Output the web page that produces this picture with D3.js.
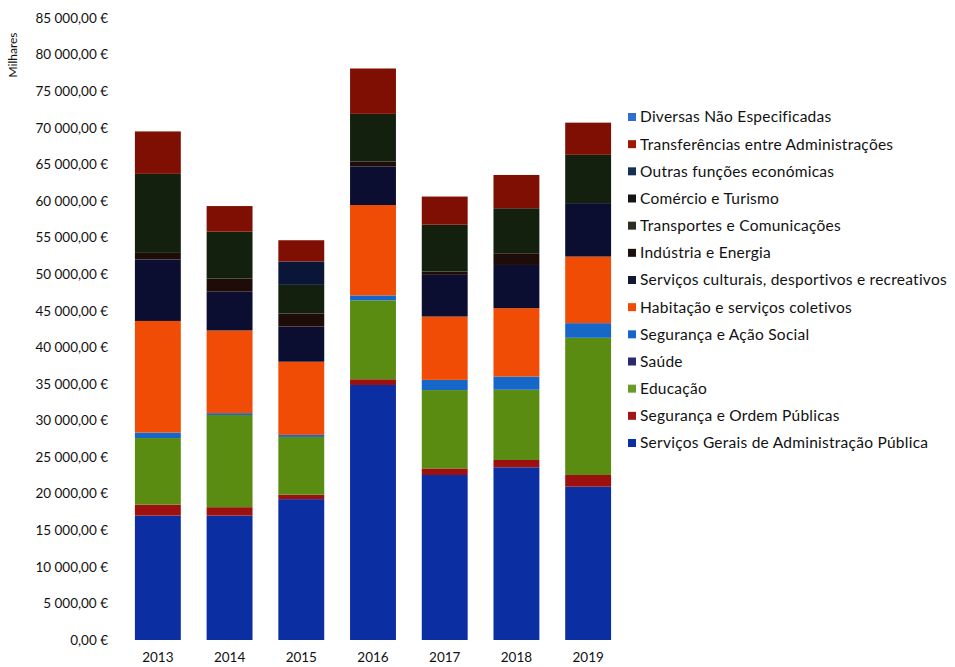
<!DOCTYPE html>
<html>
<head>
<meta charset="utf-8">
<script src="https://cdn.jsdelivr.net/npm/d3@7"></script>
<style>
  html, body { margin: 0; padding: 0; background: #fff; }
  svg text { font-family: Lato, "Open Sans", sans-serif; fill: #111; }
</style>
</head>
<body>
<svg id="chart" width="955" height="667"></svg>
<script>
// ---- data (thousands of euros) ----
const years = ["2013", "2014", "2015", "2016", "2017", "2018", "2019"];

// stacked from bottom to top
const seriesNames = [
  "Serviços Gerais de Administração Pública",
  "Segurança e Ordem Públicas",
  "Educação",
  "Saúde",
  "Segurança e Ação Social",
  "Habitação e serviços coletivos",
  "Serviços culturais, desportivos e recreativos",
  "Indústria e Energia",
  "Transportes e Comunicações",
  "Comércio e Turismo",
  "Outras funções económicas",
  "Transferências entre Administrações",
  "Diversas Não Especificadas"
];

const servicosGerais   = [17000, 17000, 19250, 34850, 22550, 23600, 20950];
const segurancaOrdem   = [1500, 1150, 600, 780, 900, 1000, 1600];
const educacao         = [9100, 12600, 7900, 10780, 10700, 9600, 18750];
const saude            = [0, 0, 0, 0, 0, 0, 0];
const segurancaAcao    = [750, 250, 280, 680, 1400, 1800, 2000];
const habitacao        = [15250, 11300, 10000, 12350, 8650, 9350, 9100];
const servicosCultura  = [8400, 5300, 4800, 5280, 5700, 5900, 7300];
const industria        = [900, 1800, 1800, 680, 450, 1600, 0];
const transportes      = [10800, 6400, 3900, 6500, 6400, 6150, 6600];
const comercio         = [0, 0, 0, 0, 0, 0, 0];
const outrasFuncoes    = [0, 0, 3200, 0, 0, 0, 0];
const transferencias   = [5800, 3500, 2900, 6200, 3850, 4550, 4400];
const diversas         = [0, 0, 0, 0, 0, 0, 0];

const seriesValues = [servicosGerais, segurancaOrdem, educacao, saude, segurancaAcao,
  habitacao, servicosCultura, industria, transportes, comercio, outrasFuncoes,
  transferencias, diversas];

const seriesColors = ["#0b2fa2", "#9c1010", "#5b8c12", "#2b2a6e", "#1767c9",
  "#f04c05", "#0b0e30", "#1e0c08", "#13200d", "#0d0d0d", "#0a1638", "#800f03", "#2f6fd0"];

const legendColors = ["#0b2fa2", "#a01818", "#6a9a2a", "#2b2a6e", "#1767c9",
  "#f04c05", "#111833", "#1a1010", "#2a3020", "#151515", "#153050", "#9a1a05", "#2f6fd0"];

const yTicks = d3.range(0, 85001, 5000);
const yLabel = "Milhares";

// ---- build table ----
const table = years.map((y, i) => {
  const row = { year: y };
  seriesNames.forEach((s, k) => row[s] = seriesValues[k][i]);
  return row;
});

const svg = d3.select("#chart");

const x = d3.scaleBand().domain(years).range([122, 624]).paddingInner(0.36).paddingOuter(0.18);
const y = d3.scaleLinear().domain([0, 85000]).range([640, 18]);

const stack = d3.stack().keys(seriesNames);
const stacked = stack(table);

svg.append("g").selectAll("g")
  .data(stacked)
  .join("g")
  .attr("fill", (d, i) => seriesColors[i])
  .selectAll("rect")
  .data(d => d)
  .join("rect")
  .attr("x", d => x(d.data.year))
  .attr("width", x.bandwidth())
  .attr("y", d => y(d[1]))
  .attr("height", d => Math.max(0, y(d[0]) - y(d[1])));

// y axis (labels only)
const fmt = v => {
  const s = d3.format(",.2f")(v).replace(/,/g, " ").replace(".", ",");
  return s + " €";
};
const yAxis = d3.axisLeft(y).tickValues(yTicks).tickFormat(fmt).tickSize(0).tickPadding(0);
const gy = svg.append("g").attr("transform", "translate(108,0)").call(yAxis);
gy.select(".domain").remove();
gy.selectAll("text").style("font-size", "13.5px").style("font-family", "Lato, 'Open Sans', sans-serif").attr("fill", "#111");

// x axis labels
const xAxis = d3.axisBottom(x).tickSize(0).tickPadding(0);
const gx = svg.append("g").attr("transform", "translate(0,652)").call(xAxis);
gx.select(".domain").remove();
gx.selectAll("text").style("font-size", "13.5px").style("font-family", "Lato, 'Open Sans', sans-serif").attr("fill", "#111");

// y label
svg.append("text")
  .attr("transform", "translate(17,55) rotate(-90)")
  .attr("text-anchor", "middle")
  .style("font-size", "12px")
  .text(yLabel);

// legend (top item = last series)
const legendItems = seriesNames.map((n, i) => ({ name: n, color: legendColors[i] })).reverse();
const lg = svg.append("g");
const ly = d3.scalePoint().domain(legendItems.map(d => d.name)).range([117, 443]);
const row = lg.selectAll("g").data(legendItems).join("g")
  .attr("transform", d => `translate(628,${ly(d.name)})`);
row.append("rect").attr("x", 0).attr("y", -4).attr("width", 8).attr("height", 8)
  .attr("fill", d => d.color);
row.append("text").attr("x", 12).attr("dy", "0.35em")
  .style("font-size", "15.5px").style("letter-spacing", "0.25px").text(d => d.name);
</script>
</body>
</html>
